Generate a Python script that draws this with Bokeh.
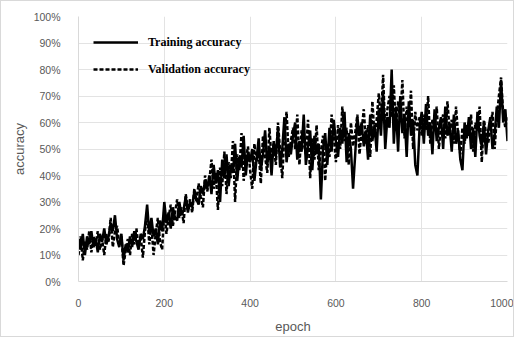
from bokeh.plotting import figure
from bokeh.models import Range1d, FixedTicker, PrintfTickFormatter, Legend, LegendItem
from bokeh.embed import file_html
from bokeh.resources import INLINE

STEP = 5
train_acc = [
    15, 12, 18, 10, 17, 14, 19, 13, 16, 11, 18, 15, 20, 14, 17, 22, 19, 25, 16, 13, 18,
    8, 14, 11, 17, 13, 19, 15, 12, 18, 16, 21, 29, 18, 24, 17, 20, 14, 23, 19, 30,
    22, 26, 20, 28, 24, 23, 30, 25, 27, 32, 26, 30, 28, 34, 31, 29, 36, 33, 38, 35,
    40, 33, 44, 37, 42, 30, 46, 39, 48, 36, 44, 41, 52, 38, 47, 43, 55, 40, 49, 45,
    50, 38, 46, 54, 42, 48, 57, 44, 51, 40, 53, 47, 58, 43, 50, 62, 45, 52, 48, 55,
    60, 46, 53, 49, 63, 44, 51, 57, 42, 55, 48, 52, 31, 50, 56, 44, 58, 49, 61, 53,
    47, 58, 52, 64, 45, 56, 50, 35, 48, 62, 55, 60, 51, 57, 46, 63, 53, 59, 49, 65,
    55, 72, 50, 62, 58, 80, 52, 66, 49, 70, 56, 63, 47, 68, 55, 61, 44, 40, 58, 64,
    52, 67, 55, 60, 48, 65, 53, 58, 62, 50, 66, 55, 59, 49, 63, 52, 57, 46, 42, 60,
    54, 62, 50, 58, 47, 64, 55, 51, 60, 48, 57, 62, 50, 55, 66, 58, 76, 60, 65, 53,
]
val_acc = [
    10, 17, 8, 15, 12, 19, 11, 17, 14, 19, 12, 16, 10, 18, 15, 24, 13, 19, 21, 14, 17,
    6, 12, 16, 10, 18, 14, 20, 13, 17, 9, 19, 26, 14, 21, 10, 18, 24, 15, 12, 27,
    18, 24, 29, 21, 26, 31, 24, 28, 22, 33, 27, 31, 26, 35, 30, 37, 32, 28, 40, 34,
    38, 46, 35, 41, 27, 43, 36, 49, 33, 45, 39, 53, 30, 48, 42, 56, 38, 46, 51, 42,
    35, 52, 45, 49, 37, 55, 47, 41, 58, 46, 52, 44, 60, 49, 39, 56, 64, 47, 53, 58,
    50, 63, 44, 57, 52, 48, 61, 39, 54, 46, 59, 42, 49, 55, 38, 52, 47, 63, 55, 45,
    59, 50, 66, 53, 58, 44, 60, 51, 56, 63, 48, 57, 65, 52, 59, 47, 68, 55, 61, 71,
    60, 78, 56, 65, 70, 62, 74, 57, 68, 61, 76, 54, 66, 59, 72, 50, 64, 57, 62, 55,
    63, 57, 70, 52, 61, 58, 66, 50, 59, 63, 54, 68, 57, 61, 52, 66, 55, 48, 58, 52,
    59, 55, 63, 49, 60, 57, 66, 45, 61, 56, 52, 58, 64, 50, 62, 70, 77, 63, 58, 62,
]
train_epoch = [i * STEP for i in range(len(train_acc))]
val_epoch = [i * STEP for i in range(len(val_acc))]

x_ticks = [0, 200, 400, 600, 800, 1000]
y_ticks = [0, 10, 20, 30, 40, 50, 60, 70, 80, 90, 100]

p = figure(width=514, height=337, output_backend="svg", toolbar_location=None,
           x_range=Range1d(0, 1000), y_range=Range1d(0, 100),
           min_border_left=77, min_border_right=8, min_border_top=15, min_border_bottom=57)
p.styles = {"border": "1px solid #d9d9d9", "box-sizing": "border-box"}
p.outline_line_color = None
p.background_fill_color = "white"
p.border_fill_color = "white"

r_val = p.line(val_epoch, val_acc, line_color="black", line_width=2.5, line_dash="4 2")
r_train = p.line(train_epoch, train_acc, line_color="black", line_width=2.5)

p.xaxis.ticker = FixedTicker(ticks=x_ticks)
p.yaxis.ticker = FixedTicker(ticks=y_ticks)
p.yaxis.formatter = PrintfTickFormatter(format="%d%%")
for ax in (p.xaxis, p.yaxis):
    ax.major_tick_line_color = None
    ax.minor_tick_line_color = None
    ax.axis_line_color = "#d9d9d9"
    ax.major_label_text_color = "#595959"
    ax.major_label_text_font = "Liberation Sans"
    ax.major_label_text_font_size = "10.5px"
    ax.axis_label_text_color = "#595959"
    ax.axis_label_text_font = "Liberation Sans"
    ax.axis_label_text_font_style = "normal"
    ax.axis_label_text_font_size = "13px"
p.xaxis.axis_label = "epoch"
p.yaxis.axis_label = "accuracy"
p.xaxis.major_label_standoff = 11
p.yaxis.major_label_standoff = 12
p.xaxis.axis_label_standoff = 9
p.yaxis.axis_label_standoff = 4

p.xgrid.ticker = FixedTicker(ticks=x_ticks)
p.ygrid.ticker = FixedTicker(ticks=y_ticks)
p.grid.grid_line_color = "#e3e3e3"
p.grid.grid_line_width = 1

legend = Legend(items=[LegendItem(label="Training accuracy", renderers=[r_train]),
                       LegendItem(label="Validation accuracy", renderers=[r_val])],
                location=(15, 202), orientation="vertical")
legend.background_fill_alpha = 0
legend.border_line_color = None
legend.padding = 0
legend.margin = 0
legend.spacing = 7
legend.glyph_width = 45
legend.glyph_height = 20
legend.label_standoff = 10
legend.label_text_font = "Liberation Serif"
legend.label_text_font_style = "bold"
legend.label_text_font_size = "12px"
legend.label_text_color = "black"
p.add_layout(legend, "center")

open("out.html", "w").write(file_html(p, INLINE))
